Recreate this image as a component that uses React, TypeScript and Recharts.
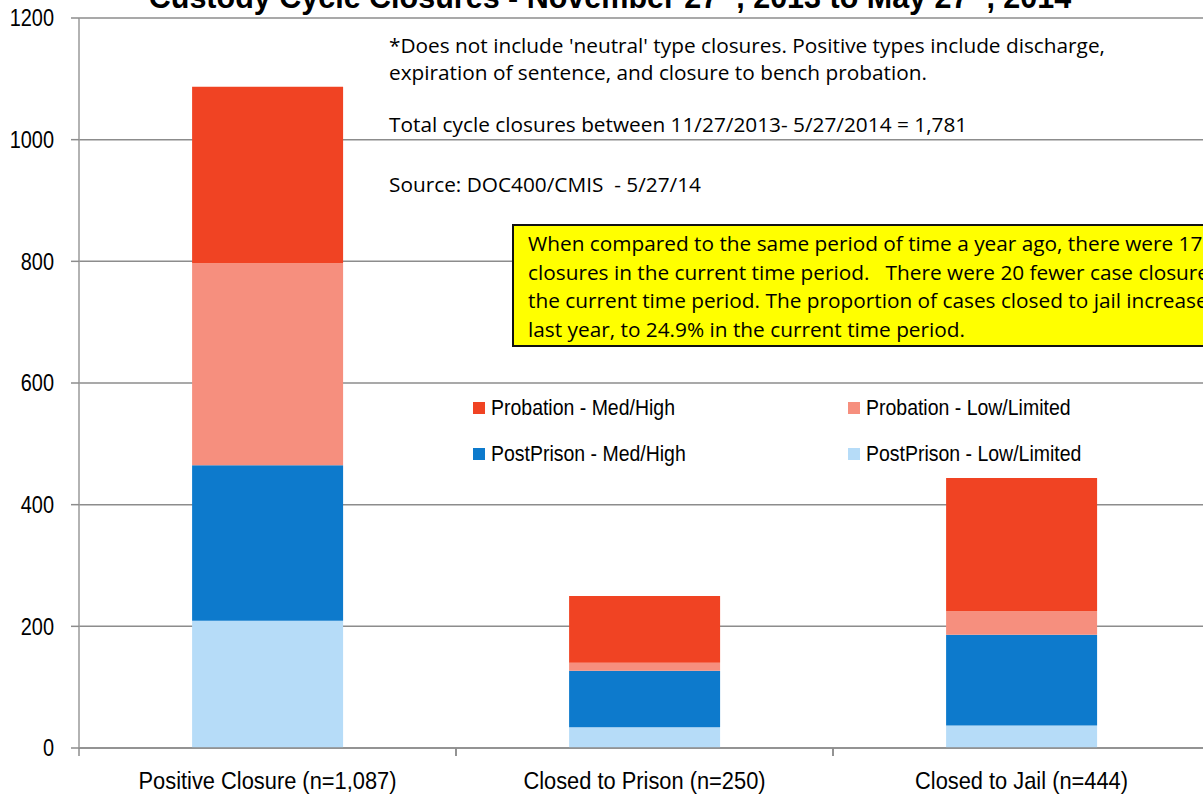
import { BarChart, Bar, XAxis, YAxis, CartesianGrid, Legend } from "recharts";

// categories and stacked series
const categories = [
  "Positive Closure (n=1,087)",
  "Closed to Prison (n=250)",
  "Closed to Jail (n=444)",
];
const postPrisonLow = [209, 34, 37];
const postPrisonMedHigh = [256, 93, 149];
const probationLow = [332, 13, 39];
const probationMedHigh = [290, 110, 219];
const yTicks = [0, 200, 400, 600, 800, 1000, 1200];

const legendOrder = [
  "Probation - Med/High",
  "Probation - Low/Limited",
  "PostPrison - Med/High",
  "PostPrison - Low/Limited",
];

const rows = categories.map((name, i) => ({
  name,
  postPrisonLow: postPrisonLow[i],
  postPrisonMedHigh: postPrisonMedHigh[i],
  probationLow: probationLow[i],
  probationMedHigh: probationMedHigh[i],
}));

const SANS = "'Liberation Sans', Arial, sans-serif";
const NOTE = "'Open Sans', 'Noto Sans', sans-serif";
const GRID = "#8c8c8c";

function CategoryTick(props: any) {
  const { x, y, payload, width, visibleTicksCount } = props;
  const half = width / visibleTicksCount / 2;
  return (
    <g>
      <line x1={x - half} x2={x - half} y1={y} y2={y + 8} stroke={GRID} strokeWidth={1.5} />
      <line x1={x + half} x2={x + half} y1={y} y2={y + 8} stroke={GRID} strokeWidth={1.5} />
      <text
        transform={`translate(${x},${y + 41}) scale(0.91,1)`}
        textAnchor="middle"
        fontFamily={SANS}
        fontSize={24}
        fill="#000"
      >
        {payload.value}
      </text>
    </g>
  );
}

function ValueTick(props: any) {
  const { x, y, payload } = props;
  return (
    <text
      transform={`translate(${x},${y}) scale(0.83,1)`}
      dy="0.35em"
      textAnchor="end"
      fontFamily={SANS}
      fontSize={24}
      fill="#000"
    >
      {payload.value}
    </text>
  );
}

function LegendGrid(props: any) {
  const items = [...(props.payload || [])].sort(
    (a: any, b: any) => legendOrder.indexOf(a.value) - legendOrder.indexOf(b.value)
  );
  return (
    <div style={{ display: "grid", gridTemplateColumns: "375px 375px", gridAutoRows: "46px" }}>
      {items.map((it: any) => (
        <div key={it.value} style={{ display: "flex", alignItems: "center" }}>
          <span style={{ width: 12, height: 12, background: it.color, marginRight: 6, display: "inline-block" }} />
          <span
            style={{
              fontFamily: SANS,
              fontSize: 22,
              color: "#000",
              whiteSpace: "nowrap",
              display: "inline-block",
              transform: "scaleX(0.885)",
              transformOrigin: "left center",
            }}
          >
            {it.value}
          </span>
        </div>
      ))}
    </div>
  );
}

const noteLine = (top: number, text: string) => (
  <div
    style={{
      position: "absolute",
      left: 389,
      top: top - 14,
      lineHeight: "28px",
      fontFamily: NOTE,
      fontSize: 20.8,
      color: "#000",
      whiteSpace: "pre",
    }}
  >
    {text}
  </div>
);

export default function App() {
  return (
    <div
      style={{
        position: "absolute",
        left: 0,
        top: 0,
        width: 1203,
        height: 796,
        overflow: "hidden",
        background: "#fff",
      }}
    >
      <BarChart
        width={1240}
        height={796}
        data={rows}
        margin={{ top: 18, right: 30, left: 19, bottom: 0 }}
        barCategoryGap="30%"
      >
        <CartesianGrid vertical={false} stroke={GRID} strokeWidth={1.5} />
        <XAxis
          dataKey="name"
          height={48}
          axisLine={{ stroke: GRID, strokeWidth: 1.5 }}
          tickLine={false}
          tickSize={0}
          tickMargin={0}
          interval={0}
          tick={<CategoryTick />}
        />
        <YAxis
          width={60}
          domain={[0, 1200]}
          ticks={yTicks}
          interval={0}
          tickSize={8}
          tickMargin={17}
          axisLine={{ stroke: "#9a9a9a", strokeWidth: 1.5 }}
          tickLine={{ stroke: GRID, strokeWidth: 1.5 }}
          tick={<ValueTick />}
        />
        <Legend
          layout="vertical"
          align="center"
          verticalAlign="middle"
          content={<LegendGrid />}
          wrapperStyle={{ left: 473, top: 385, width: 760, height: 92 }}
        />
        <Bar dataKey="postPrisonLow" name="PostPrison - Low/Limited" stackId="s" fill="#B6DCF8" isAnimationActive={false} />
        <Bar dataKey="postPrisonMedHigh" name="PostPrison - Med/High" stackId="s" fill="#0D7ACC" isAnimationActive={false} />
        <Bar dataKey="probationLow" name="Probation - Low/Limited" stackId="s" fill="#F68F7E" isAnimationActive={false} />
        <Bar dataKey="probationMedHigh" name="Probation - Med/High" stackId="s" fill="#F04323" isAnimationActive={false} />
        <text x={610} y={8} textAnchor="middle" fontFamily={SANS} fontWeight="bold" fontSize={30.5} fill="#000">
          Custody Cycle Closures - November 27
          <tspan fontSize={19} dy={-11}>th</tspan>
          <tspan dy={11}>, 2013 to May 27</tspan>
          <tspan fontSize={19} dy={-11}>th</tspan>
          <tspan dy={11}>, 2014</tspan>
        </text>
      </BarChart>

      {noteLine(45, "*Does not include 'neutral' type closures. Positive types include discharge,")}
      {noteLine(72, "expiration of sentence, and closure to bench probation.")}
      {noteLine(124, "Total cycle closures between 11/27/2013- 5/27/2014 = 1,781")}
      {noteLine(184, "Source: DOC400/CMIS  - 5/27/14")}

      <div
        style={{
          position: "absolute",
          left: 512,
          top: 224,
          width: 760,
          height: 123,
          boxSizing: "border-box",
          background: "#FFFF00",
          border: "2px solid #111",
          padding: "3px 0 0 14px",
          fontFamily: NOTE,
          fontSize: 20.8,
          lineHeight: "28.5px",
          color: "#000",
          whiteSpace: "pre",
          overflow: "hidden",
        }}
      >
        {"When compared to the same period of time a year ago, there were 17\n" +
          "closures in the current time period.   There were 20 fewer case closures in\n" +
          "the current time period. The proportion of cases closed to jail increased from\n" +
          "last year, to 24.9% in the current time period."}
      </div>
    </div>
  );
}
